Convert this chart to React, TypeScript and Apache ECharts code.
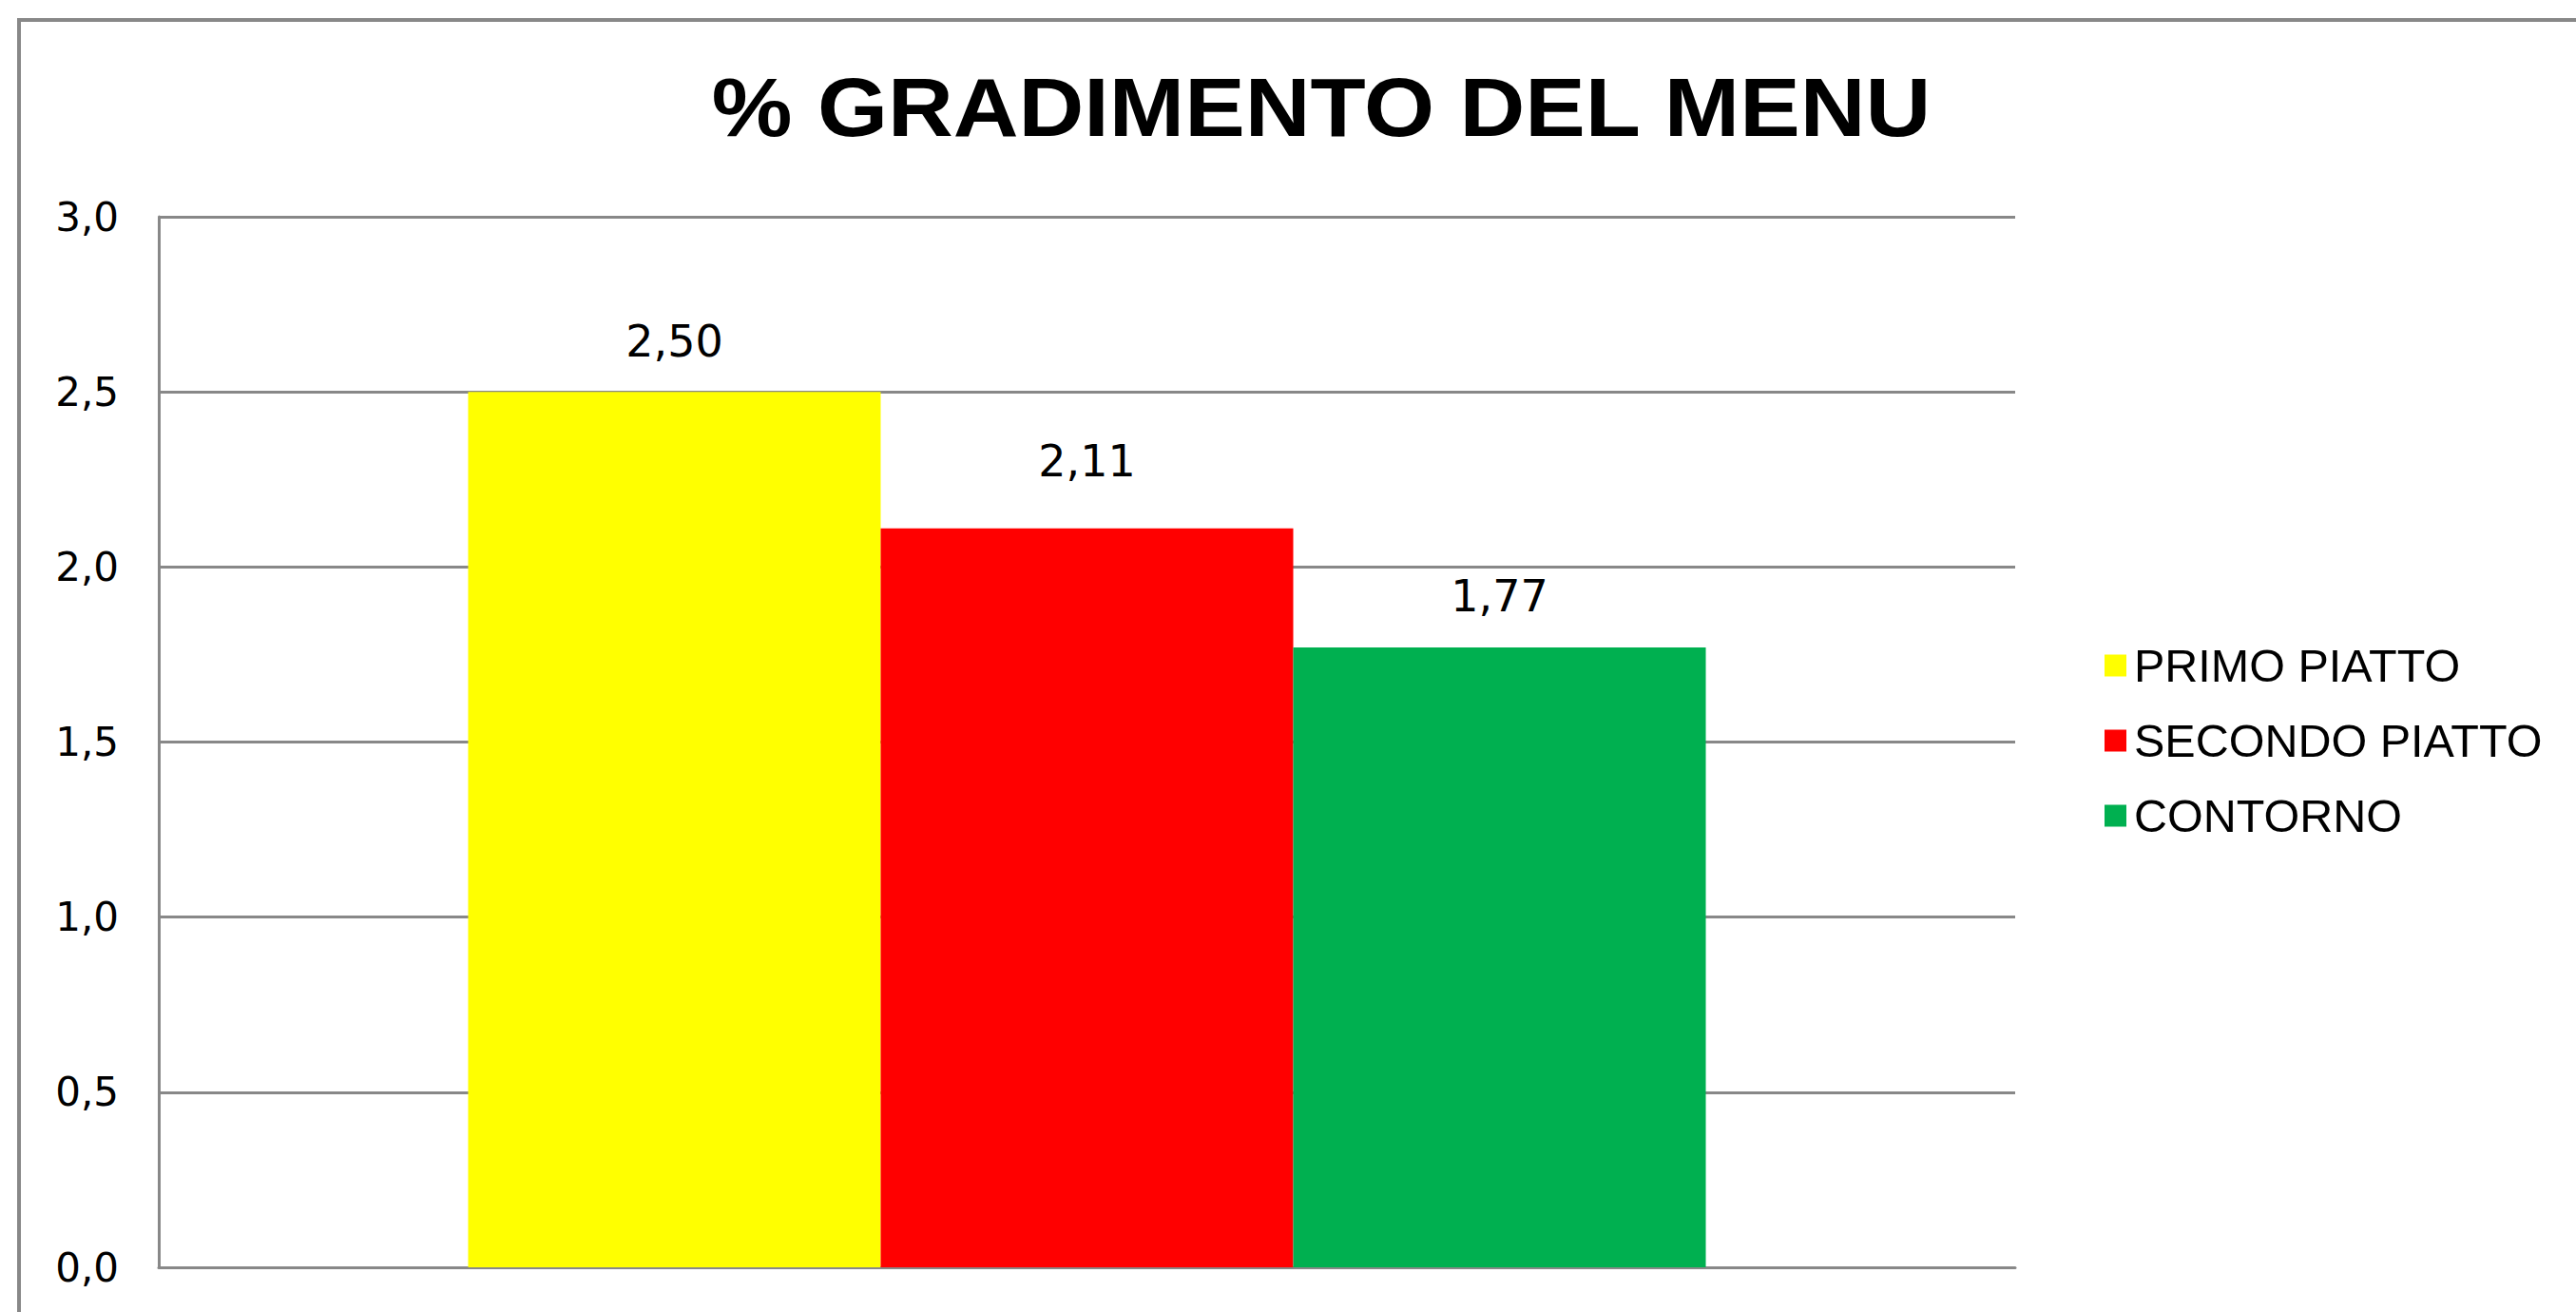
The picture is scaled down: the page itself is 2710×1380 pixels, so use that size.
import React, { useEffect, useRef } from "react";
import * as echarts from "echarts";

const titleText = "% GRADIMENTO DEL MENU";
const categories = [""];
const seriesNames = ["PRIMO PIATTO", "SECONDO PIATTO", "CONTORNO"];
const seriesValues = [2.5, 2.11, 1.77];
const seriesColors = ["#FFFF00", "#FF0000", "#00B050"];
const labelDistances = [30, 48, 31];
const yMin = 0;
const yMax = 3;
const yInterval = 0.5;

const fmt = (v: number, d: number) => v.toFixed(d).replace(".", ",");

export default function App() {
  const ref = useRef<HTMLDivElement>(null);
  useEffect(() => {
    if (!ref.current) return;
    const chart = echarts.init(ref.current, null, { renderer: "svg" });
    const gridColor = "#888888";
    chart.setOption({
      animation: false,
      backgroundColor: "#ffffff",
      graphic: [
        {
          type: "rect",
          z: -10,
          silent: true,
          shape: { x: 20, y: 21, width: 2800, height: 1500 },
          style: { fill: "none", stroke: gridColor, lineWidth: 4 },
        },
        {
          type: "text",
          x: 1390,
          y: 112,
          scaleX: 1.095,
          style: {
            text: titleText,
            font: "bold 87px 'Liberation Sans', Arial, sans-serif",
            fill: "#000000",
            textAlign: "center",
            textVerticalAlign: "middle",
          },
        },
      ],
      legend: {
        orient: "vertical",
        left: 2209,
        top: 670,
        itemWidth: 23,
        itemHeight: 23,
        itemGap: 29,
        icon: "rect",
        data: seriesNames,
        textStyle: {
          fontFamily: "'Liberation Sans', Arial, sans-serif",
          fontSize: 48.5,
          lineHeight: 50,
          color: "#000000",
          padding: [0, 0, 0, 3],
        },
      },
      grid: { left: 167, top: 228, width: 1953, height: 1105, containLabel: false },
      xAxis: {
        type: "category",
        data: categories,
        axisLine: { show: true, lineStyle: { color: gridColor, width: 3 } },
        axisTick: { show: false },
        axisLabel: { show: false },
        splitLine: { show: false },
      },
      yAxis: {
        type: "value",
        min: yMin,
        max: yMax,
        interval: yInterval,
        axisLine: { show: true, lineStyle: { color: gridColor, width: 3 } },
        axisTick: { show: false },
        axisLabel: {
          margin: 42,
          fontFamily: "'DejaVu Sans', sans-serif",
          fontSize: 42,
          color: "#000000",
          formatter: (v: number) => fmt(v, 1),
        },
        splitLine: { show: true, lineStyle: { color: gridColor, width: 3 } },
      },
      series: seriesNames.map((name, i) => ({
        name,
        type: "bar",
        data: [seriesValues[i]],
        barGap: "0%",
        barCategoryGap: "33.33%",
        itemStyle: { color: seriesColors[i] },
        label: {
          show: true,
          position: "top",
          distance: labelDistances[i],
          fontFamily: "'DejaVu Sans', sans-serif",
          fontSize: 46,
          color: "#000000",
          formatter: (p: any) => fmt(p.value, 2),
        },
      })),
    });
    return () => chart.dispose();
  }, []);
  return (
    <div
      ref={ref}
      style={{ position: "fixed", left: 0, top: 0, width: 2710, height: 1380, background: "#fff" }}
    />
  );
}
